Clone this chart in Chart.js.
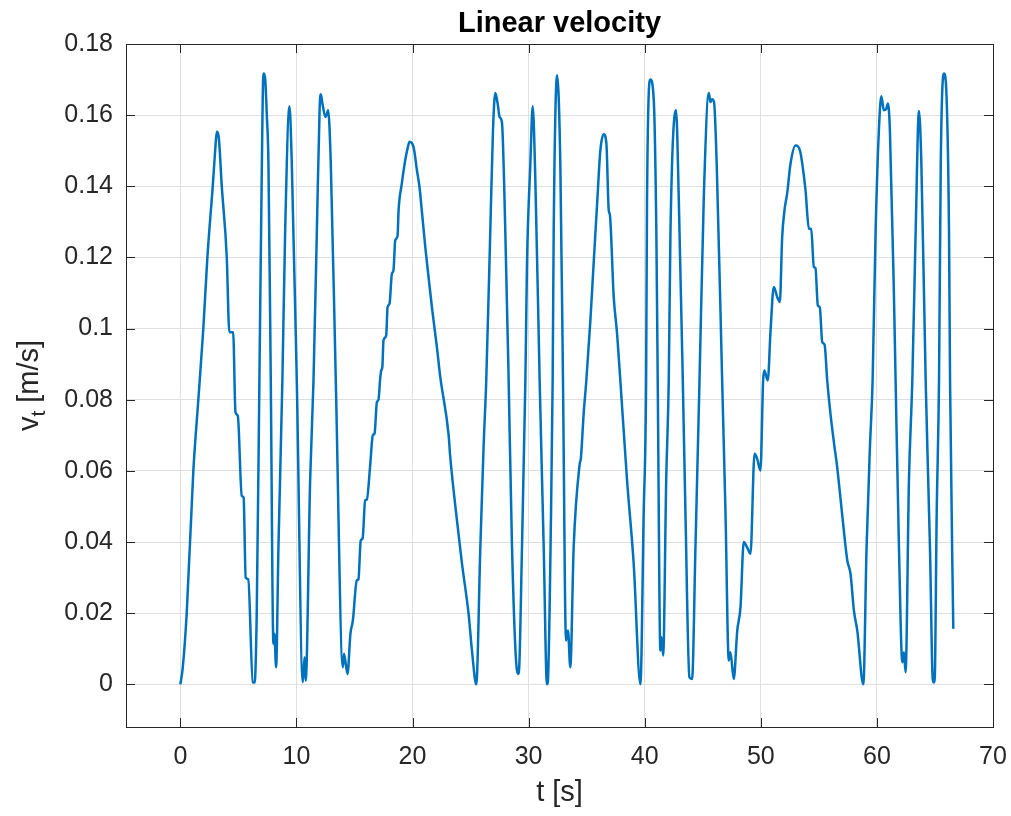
<!DOCTYPE html>
<html>
<head>
<meta charset="utf-8">
<title>Linear velocity</title>
<script src="https://cdn.jsdelivr.net/npm/chart.js@4.4.0/dist/chart.umd.min.js"></script>
<style>
  html, body { margin: 0; padding: 0; background: #fff; }
  #wrap { width: 1011px; height: 816px; }
</style>
</head>
<body>
<div id="wrap"><canvas id="chart" width="1011" height="816"></canvas></div>
<script>
// Linear velocity v_t over time
const tSec = [
  0, 0.2, 0.55, 1.12, 1.55, 1.98, 2.33, 2.79, 3.0, 3.14, 3.3, 3.57, 4.0, 4.22, 4.55, 4.75, 4.95,
  5.29, 5.45, 5.63, 5.85, 6.24, 6.4, 6.58, 6.81, 7.0, 7.16, 7.3, 7.45, 7.59, 7.79, 8.02, 8.1, 8.25,
  8.45, 8.79, 9.03, 9.4, 9.6, 10.03, 10.55, 10.7, 10.8, 11.18, 11.47, 11.76, 12.0, 12.1, 12.24, 12.5,
  12.6, 12.73, 12.96, 13.39, 14.0, 14.1, 14.4, 14.65, 14.86, 15.2, 15.34, 15.54, 15.7, 15.92, 16.07,
  16.35, 16.58, 16.73, 16.93, 17.07, 17.2, 17.3, 17.4, 17.5, 17.73, 17.85, 18.02, 18.22, 18.36, 18.51,
  18.71, 18.8, 19.08, 19.37, 19.6, 19.74, 20.09, 20.38, 20.6, 20.81, 21.1, 21.38, 21.67, 22.1, 22.39,
  23.1, 23.25, 23.83, 24.26, 24.83, 25.12, 25.49, 25.84, 26.12, 26.35, 26.7, 26.93, 27.13, 27.33, 27.5,
  27.7, 27.99, 28.28, 28.57, 28.94, 29.14, 29.43, 29.72, 29.86, 30.15, 30.35, 30.58, 30.95, 31.3,
  31.58, 31.65, 31.93, 32.07, 32.16, 32.45, 32.73, 32.96, 33.22, 33.39, 33.59, 33.88, 34.4, 34.5,
  34.74, 34.97, 35.32, 35.6, 35.9, 36.18, 36.47, 36.7, 36.9, 37.0, 37.33, 37.62, 37.9, 38.48, 39.05,
  39.63, 39.91, 40.12, 40.2, 40.49, 40.78, 41.0, 41.12, 41.35, 41.45, 41.59, 41.85, 42.07, 42.22,
  42.7, 42.93, 43.28, 43.51, 43.85, 44.08, 44.37, 44.72, 45.09, 45.52, 45.66, 45.8, 45.97, 46.2,
  46.67, 46.96, 47.24, 47.38, 47.67, 47.97, 48.25, 48.53, 48.82, 49.11, 49.46, 49.68, 49.97, 50.2,
  50.3, 50.6, 50.84, 51.12, 51.41, 51.64, 51.84, 52.04, 52.27, 52.56, 52.99, 53.37, 53.57, 53.85,
  54.14, 54.34, 54.57, 54.71, 54.91, 55.08, 55.29, 55.49, 55.72, 56.0, 56.35, 56.58, 57.0, 57.45,
  57.73, 58.02, 58.31, 58.83, 59.11, 59.4, 59.63, 59.89, 60.17, 60.38, 60.6, 60.78, 60.95, 61.12,
  61.47, 61.61, 61.9, 62.19, 62.33, 62.47, 62.76, 63.05, 63.34, 63.62, 63.83, 64.2, 64.57, 64.83,
  64.97, 65.15, 65.35, 65.5, 65.78, 66.0, 66.21, 66.3, 66.58
];
const velocity = [
  0, 0.0044, 0.02, 0.06, 0.08, 0.10, 0.12, 0.14, 0.150, 0.1553, 0.154, 0.14, 0.12, 0.099, 0.099, 0.0765, 0.0755,
  0.053, 0.0525, 0.030, 0.0295, 0.0006, 0.0005, 0.02, 0.0854, 0.14, 0.1717, 0.1705, 0.16, 0.1465, 0.0854, 0.0114, 0.0142, 0.0048,
  0.0385, 0.0854, 0.1276, 0.1625, 0.1464, 0.0854, 0.0006, 0.0076, 0.001, 0.0573, 0.0854, 0.1276, 0.162, 0.1659, 0.1633, 0.1595,
  0.160, 0.1614, 0.1464, 0.0854, 0.0048, 0.0086, 0.0029, 0.0142, 0.0179, 0.0292, 0.0295, 0.0404, 0.041, 0.0517, 0.052,
  0.0615, 0.070, 0.0705, 0.0793, 0.080, 0.0854, 0.0882, 0.0892, 0.0967, 0.098, 0.106, 0.107, 0.1154, 0.1164, 0.1248,
  0.126, 0.1333, 0.1408, 0.1473, 0.151, 0.1525, 0.151, 0.1445, 0.1398, 0.1328, 0.1229, 0.1145, 0.106, 0.0948, 0.0864,
  0.0704, 0.0639, 0.046, 0.0339, 0.0198, 0.0095, 0.0, 0.0385, 0.0667, 0.0854, 0.1276, 0.1557, 0.1662, 0.1633, 0.1595,
  0.158, 0.1276, 0.0854, 0.0385, 0.0057, 0.0029, 0.0385, 0.0854, 0.1183, 0.1464, 0.1625, 0.1417, 0.0854, 0.0385,
  0.0, 0.0005, 0.048, 0.0854, 0.1276, 0.1712, 0.1464, 0.0854, 0.0123, 0.0151, 0.0048, 0.0385, 0.062, 0.0635,
  0.076, 0.0854, 0.1023, 0.1183, 0.1351, 0.1501, 0.1546, 0.152, 0.1333, 0.132, 0.1089, 0.0986, 0.0854, 0.0573, 0.0339,
  0.0, 0.048, 0.0854, 0.137, 0.170, 0.1642, 0.1276, 0.0854, 0.0095, 0.0132, 0.0081, 0.0573, 0.0854, 0.1276,
  0.1614, 0.137, 0.0854, 0.048, 0.002, 0.0015, 0.0385, 0.0854, 0.137, 0.1662, 0.1637, 0.1645, 0.1637, 0.1464,
  0.0854, 0.048, 0.0067, 0.009, 0.0015, 0.0151, 0.0217, 0.040, 0.0385, 0.0367, 0.0648, 0.0635, 0.0601, 0.0854,
  0.0882, 0.0854, 0.0995, 0.1117, 0.1089, 0.1075, 0.1257, 0.1333, 0.138, 0.1464, 0.1515, 0.1501, 0.1464, 0.1389,
  0.1281, 0.128, 0.1173, 0.117, 0.1065, 0.106, 0.0962, 0.0955, 0.0854, 0.076, 0.0667, 0.061, 0.048, 0.0348,
  0.031, 0.0207, 0.0151, 0.0, 0.0385, 0.0667, 0.0854, 0.1276, 0.1557, 0.1653, 0.1614, 0.1616, 0.1633, 0.1557,
  0.1089, 0.0854, 0.0385, 0.0062, 0.009, 0.0034, 0.0573, 0.0854, 0.1276, 0.1612, 0.1464, 0.0854, 0.0385, 0.0006,
  0.0006, 0.048, 0.0854, 0.1464, 0.1717, 0.1651, 0.1276, 0.0854, 0.0156
];
const xTicks = [0, 10, 20, 30, 40, 50, 60, 70];
const yTicks = [0, 0.02, 0.04, 0.06, 0.08, 0.1, 0.12, 0.14, 0.16, 0.18];

const FONT = '"Liberation Sans", Arial, Helvetica, sans-serif';
const AXIS_COLOR = '#262626';

// title, axis titles (with subscript) and the MATLAB-style box with inward ticks
const decorations = {
  id: 'decorations',
  beforeDatasetsDraw(chart) {
    const ctx = chart.ctx;
    const a = chart.chartArea;
    const xs = chart.scales.x, ys = chart.scales.y;
    ctx.save();
    ctx.strokeStyle = AXIS_COLOR;
    ctx.lineWidth = 1;
    ctx.strokeRect(Math.round(a.left) + 0.5, Math.round(a.top) + 0.5,
      Math.round(a.right - a.left), Math.round(a.bottom - a.top));
    ctx.beginPath();
    xTicks.forEach(v => {
      const px = Math.round(xs.getPixelForValue(v)) + 0.5;
      ctx.moveTo(px, a.bottom); ctx.lineTo(px, a.bottom - 9);
      ctx.moveTo(px, a.top); ctx.lineTo(px, a.top + 9);
    });
    yTicks.forEach(v => {
      const py = Math.round(ys.getPixelForValue(v)) + 0.5;
      ctx.moveTo(a.left, py); ctx.lineTo(a.left + 9, py);
      ctx.moveTo(a.right, py); ctx.lineTo(a.right - 9, py);
    });
    ctx.stroke();
    ctx.restore();
  },
  afterDraw(chart) {
    const ctx = chart.ctx;
    const a = chart.chartArea;
    const cx = (a.left + a.right) / 2;
    ctx.save();
    ctx.fillStyle = '#000';
    ctx.textAlign = 'center';
    ctx.textBaseline = 'alphabetic';
    ctx.font = 'bold 29px ' + FONT;
    ctx.fillText('Linear velocity', cx, 32);

    ctx.fillStyle = AXIS_COLOR;
    ctx.font = '29px ' + FONT;
    ctx.fillText('t [s]', cx, 801);

    // y label: v with subscript t, then [m/s]
    const big = '29px ' + FONT, small = '21px ' + FONT;
    ctx.font = big; const wV = ctx.measureText('v').width;
    const wRest = ctx.measureText(' [m/s]').width;
    ctx.font = small; const wT = ctx.measureText('t').width;
    const total = wV + wT + wRest;
    ctx.translate(38, (a.top + a.bottom) / 2);
    ctx.rotate(-Math.PI / 2);
    ctx.textAlign = 'left';
    let x0 = -total / 2;
    ctx.font = big; ctx.fillText('v', x0, 0);
    ctx.font = small; ctx.fillText('t', x0 + wV, 7);
    ctx.font = big; ctx.fillText(' [m/s]', x0 + wV + wT, 0);
    ctx.restore();
  }
};

const points = tSec.map((t, i) => ({ x: t, y: velocity[i] }));

new Chart(document.getElementById('chart'), {
  type: 'scatter',
  data: {
    datasets: [{
      data: points,
      showLine: true,
      borderColor: '#0072BD',
      backgroundColor: '#0072BD',
      borderWidth: 2.5,
      pointRadius: 0,
      cubicInterpolationMode: 'monotone'
    }]
  },
  options: {
    responsive: false,
    animation: false,
    layout: { padding: { left: 0, top: 44, right: 18, bottom: 0 } },
    plugins: { legend: { display: false }, tooltip: { enabled: false }, title: { display: false } },
    scales: {
      x: {
        type: 'linear',
        min: -4.68,
        max: 70,
        afterBuildTicks: s => { s.ticks = xTicks.map(v => ({ value: v })); },
        afterFit: s => { s.height = 89; s.paddingLeft = 0; s.paddingRight = 0; },
        grid: { color: '#dfdfdf', drawTicks: false },
        border: { display: false },
        ticks: { color: AXIS_COLOR, font: { family: FONT, size: 25 }, padding: 15, maxRotation: 0 }
      },
      y: {
        type: 'linear',
        min: -0.012,
        max: 0.18,
        afterBuildTicks: s => { s.ticks = yTicks.map(v => ({ value: v })); },
        afterFit: s => { s.width = 126; s.paddingTop = 0; s.paddingBottom = 0; },
        grid: { color: '#dfdfdf', drawTicks: false },
        border: { display: false },
        ticks: {
          color: AXIS_COLOR, font: { family: FONT, size: 25 }, padding: 13,
          callback: v => String(+v.toFixed(2))
        }
      }
    }
  },
  plugins: [decorations]
});
</script>
</body>
</html>
